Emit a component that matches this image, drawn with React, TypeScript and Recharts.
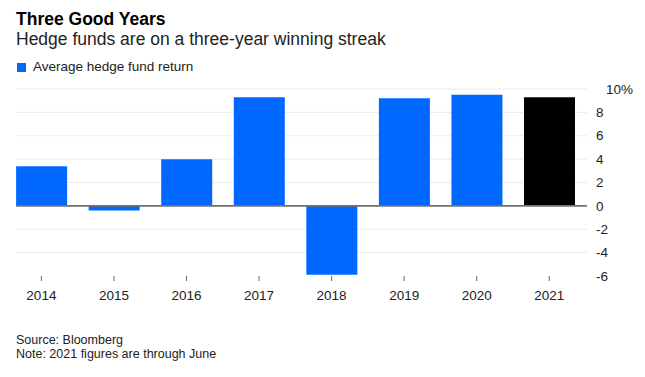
import React from 'react';
import { BarChart, Bar, XAxis, YAxis, ReferenceLine, Cell, CartesianGrid } from 'recharts';

const years = ['2014', '2015', '2016', '2017', '2018', '2019', '2020', '2021'];
const returns = [3.4, -0.4, 4.0, 9.3, -5.9, 9.2, 9.5, 9.3];
const yTicks = [-6, -4, -2, 0, 2, 4, 6, 8, 10];
const gridValues = [-4, -2, 2, 4, 6, 8, 10];

const data = years.map((year, i) => ({ idx: i, year, value: returns[i] }));

const font = '"Liberation Sans", Arial, sans-serif';

const YTick = (props: any) => {
  const { x, y, payload } = props;
  const isTop = payload.value === 10;
  return (
    <text x={x + (isTop ? 11 : 1)} y={y} dy="0.35em" textAnchor="start" fontSize={13.5} fill="#222" fontFamily={font}>
      {isTop ? '10%' : payload.value}
    </text>
  );
};

const App = () => {
  return (
    <div style={{ position: 'absolute', left: 0, top: 0, width: 645, height: 377, background: '#fff', fontFamily: font }}>
      <div style={{ position: 'absolute', left: 16, top: 9, fontSize: 17.5, fontWeight: 'bold', color: '#000', lineHeight: 1.15 }}>
        Three Good Years
      </div>
      <div style={{ position: 'absolute', left: 16, top: 29, fontSize: 17.5, color: '#222', lineHeight: 1.15 }}>
        Hedge funds are on a three-year winning streak
      </div>
      <div style={{ position: 'absolute', left: 17, top: 59, fontSize: 13.5, color: '#222', display: 'flex', alignItems: 'center', lineHeight: '16px' }}>
        <span style={{ display: 'inline-block', width: 9, height: 9, background: '#0068ff', marginRight: 7 }} />
        Average hedge fund return
      </div>

      <div style={{ position: 'absolute', left: 0, top: 0 }}>
        <BarChart width={645} height={377} data={data} margin={{ top: 89, right: 0, bottom: 71, left: 16 }}>
          <CartesianGrid vertical={false} stroke="#ebebeb" horizontalValues={gridValues} />
          <XAxis
            dataKey="idx"
            type="number"
            domain={[-0.35, 7.52]}
            allowDataOverflow
            ticks={years.map((_, i) => i)}
            tickFormatter={(v: number) => years[v]}
            axisLine={false}
            tickSize={5}
            tickMargin={9}
            stroke="#666"
            tick={{ fontSize: 13.5, fill: '#222', fontFamily: font }}
            height={30}
            interval={0}
          />
          <YAxis
            orientation="right"
            domain={[-6, 10]}
            allowDataOverflow
            ticks={yTicks}
            axisLine={false}
            tickLine={false}
            width={58}
            tick={<YTick />}
            interval={0}
          />
          <Bar dataKey="value" barSize={51} isAnimationActive={false}>
            {data.map((d, i) => (
              <Cell key={d.year} fill={i === data.length - 1 ? '#000000' : '#0068ff'} />
            ))}
          </Bar>
          <ReferenceLine y={0} stroke="#707070" strokeWidth={1.6} />
        </BarChart>
      </div>

      <div style={{ position: 'absolute', left: 16, top: 333, fontSize: 12.5, color: '#222', lineHeight: '14px' }}>
        <div>Source: Bloomberg</div>
        <div>Note: 2021 figures are through June</div>
      </div>
    </div>
  );
};

export default App;
